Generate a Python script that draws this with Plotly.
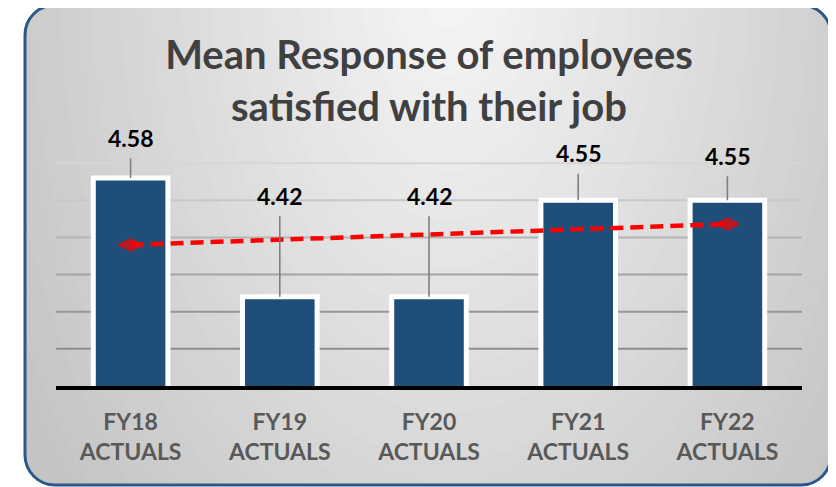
import numpy as np
import plotly.graph_objects as go

# ---------------- data ----------------
categories = ["FY18<br>ACTUALS", "FY19<br>ACTUALS", "FY20<br>ACTUALS", "FY21<br>ACTUALS", "FY22<br>ACTUALS"]
mean_response = [4.58, 4.42, 4.42, 4.55, 4.55]
value_labels = ["4.58", "4.42", "4.42", "4.55", "4.55"]
grid_values = [4.35, 4.40, 4.45, 4.50, 4.55, 4.60]

# ---------------- style ----------------
OFF = 8                      # page body margin
W, H = 836 - OFF, 487 - OFF  # figure size
PL, PR, PT, PB = 56, 802, 126, 386   # plot area in page pixels
ML, MR, MT, MB = PL - OFF, 836 - PR, PT - OFF, 487 - PB
PW, PH = PR - PL, PB - PT
label_offsets = [-40, -101, -101, -47, -44.5]
grid_colors = ["#8e8e8e", "#969696", "#a4a4a4", "#b4b4b4", "#c8c8c8", "#d6d6d6"]
FONT = "Lato"


def px(x):
    return (x - PL) / PW


def py(y):
    return (PB - y) / PH


def rrect_path(x0, y0, x1, y1, r):
    k = 0.4477 * r
    pts = [
        f"M{px(x0 + r)},{py(y0)}",
        f"L{px(x1 - r)},{py(y0)}",
        f"C{px(x1 - k)},{py(y0)} {px(x1)},{py(y0 + k)} {px(x1)},{py(y0 + r)}",
        f"L{px(x1)},{py(y1 - r)}",
        f"C{px(x1)},{py(y1 - k)} {px(x1 - k)},{py(y1)} {px(x1 - r)},{py(y1)}",
        f"L{px(x0 + r)},{py(y1)}",
        f"C{px(x0 + k)},{py(y1)} {px(x0)},{py(y1 - k)} {px(x0)},{py(y1 - r)}",
        f"L{px(x0)},{py(y0 + r)}",
        f"C{px(x0)},{py(y0 + k)} {px(x0 + k)},{py(y0)} {px(x0 + r)},{py(y0)}",
        "Z",
    ]
    return " ".join(pts)


shapes = []
# background gradient (concentric ellipses)
cx, cy, ay_scale = 450, -20, 1.6
for d in range(600, 0, -15):
    g = int(max(196, min(248, 247 - 0.1 * d)))
    col = f"rgb({g},{g},{g})"
    shapes.append(dict(type="circle", xref="paper", yref="paper", layer="below",
                       x0=px(cx - d), x1=px(cx + d), y0=py(cy + d * ay_scale), y1=py(cy - d * ay_scale),
                       fillcolor=col, line=dict(width=0)))

BX0, BY0, BX1, BY1, BR = 25, 5, 831, 485, 30
outer = f"M{px(-20)},{py(-20)} L{px(860)},{py(-20)} L{px(860)},{py(510)} L{px(-20)},{py(510)} Z"
shapes.append(dict(type="path", xref="paper", yref="paper", layer="below",
                   path=outer + " " + rrect_path(BX0, BY0, BX1, BY1, BR),
                   fillcolor="white", fillrule="evenodd", line=dict(width=0)))
shapes.append(dict(type="path", xref="paper", yref="paper", layer="below",
                   path=rrect_path(BX0, BY0, BX1, BY1, BR),
                   fillcolor="rgba(0,0,0,0)", line=dict(color="#2a5986", width=3)))

for gv, gc in zip(grid_values, grid_colors):
    shapes.append(dict(type="line", xref="paper", yref="y", layer="below",
                       x0=0, x1=1, y0=gv, y1=gv, line=dict(color=gc, width=2)))

# trend line from linear fit of data
xi = np.arange(1, len(mean_response) + 1)
slope, intercept = np.polyfit(xi, mean_response, 1)
trend = slope * xi + intercept

fig = go.Figure()
fig.add_trace(go.Bar(
    x=categories, y=mean_response,
    marker=dict(color="#1f4e79", line=dict(color="white", width=5)),
    hoverinfo="skip", showlegend=False,
))
sizes = [18 if i in (0, len(trend) - 1) else 0 for i in range(len(trend))]
fig.add_trace(go.Scatter(
    x=categories, y=trend, mode="lines+markers",
    line=dict(color="#ff0000", width=4.5, dash="13px,7px"),
    marker=dict(symbol="diamond-wide", size=sizes, color="#ff0000", line=dict(width=1, color="#ff0000")),
    showlegend=False, hoverinfo="skip",
))

annotations = []
for c, v, t, off in zip(categories, mean_response, value_labels, label_offsets):
    annotations.append(dict(
        x=c, y=v, xref="x", yref="y", text=f"<b>{t}</b>",
        showarrow=True, arrowhead=0, arrowwidth=1.6, arrowcolor="#7f7f7f",
        ax=0, ay=off, standoff=0, startstandoff=6, borderpad=0,
        font=dict(family=FONT, size=23, color="black"),
    ))

fig.update_layout(
    width=W, height=H,
    margin=dict(l=ML, r=MR, t=MT, b=MB),
    paper_bgcolor="white", plot_bgcolor="rgba(0,0,0,0)",
    bargap=0.5,
    title=dict(text="<b>Mean Response of employees<br>satisfied with their job</b>",
               x=0.5, xref="paper", xanchor="center",
               y=1 - (69 - OFF) / H, yref="container", yanchor="middle",
               font=dict(family=FONT, size=40, color="#404040")),
    shapes=shapes,
    annotations=annotations,
    xaxis=dict(showgrid=False, showline=True, linecolor="black", linewidth=4,
               ticks="", ticklabelstandoff=12,
               tickfont=dict(family=FONT, size=23, color="#595959"),
               tickprefix="<b>", ticksuffix="</b>"),
    yaxis=dict(range=[4.30, 4.65], showgrid=False, showticklabels=False, zeroline=False, ticks=""),
)

fig.write_html("out.html")
